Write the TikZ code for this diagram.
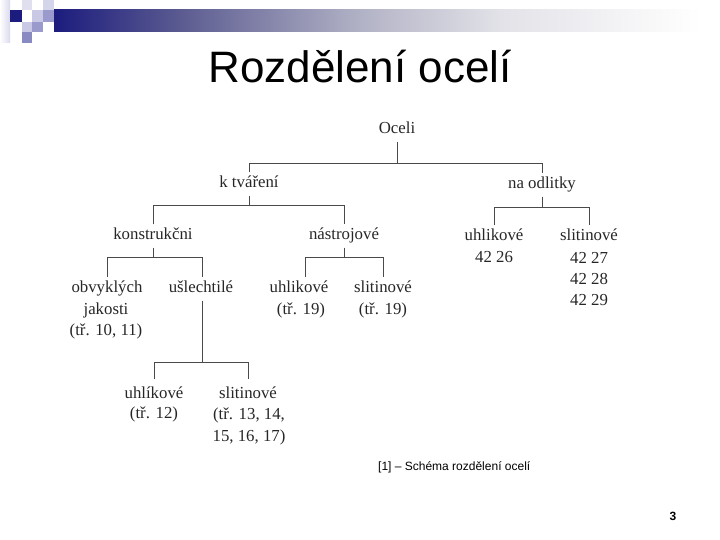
\documentclass[tikz,border=0pt]{standalone}
\usepackage{fontspec}
\setmainfont{Liberation Serif}
\newfontfamily\arialf{Liberation Sans}
\definecolor{navy}{HTML}{1C1C7E}
\definecolor{navyA}{HTML}{5B5B91}
\definecolor{navyB}{HTML}{B2B2C6}
\definecolor{navyC}{HTML}{E2E2E8}
\definecolor{lav}{HTML}{C9C9E6}
\definecolor{lavm}{HTML}{9A9ACC}
\definecolor{lavd}{HTML}{8A8AC2}
\definecolor{ink}{HTML}{262626}
\definecolor{wire}{HTML}{4A4A4A}
\tikzset{
  lbl/.style={font=\fontsize{16.8}{19}\selectfont, text=ink, inner xsep=1pt, inner ysep=4pt, text height=11pt, text depth=4pt, anchor=center},
  lbllow/.style={lbl, inner ysep=8pt},
  txt/.style={font=\fontsize{16.8}{19}\selectfont, text=ink, inner sep=0pt, anchor=center},
  wirel/.style={draw=wire, line width=0.9pt}
}
\begin{document}
\begin{tikzpicture}[x=1pt,y=-1pt]
\useasboundingbox (0,0) rectangle (720,540);
% header decoration
\shade[left color=white, right color=lav!70] (0,0) rectangle (10,43);
\fill[navy] (10,10) rectangle (22,22);
\fill[lav!60] (22,0) rectangle (32,10);
\fill[lav] (32,10) rectangle (43,22);
\fill[lav!80] (43,0) rectangle (54,10);
\fill[lavm] (43,10) rectangle (54,22);
\fill[lav] (22,22) rectangle (32,32);
\fill[lavm] (32,22) rectangle (43,32);
\fill[lavd] (22,32) rectangle (32,43);
\shade[left color=navy, right color=navyA] (54,10) rectangle (180.5,32);
\shade[left color=navyA, right color=navyB] (180,10) rectangle (360.5,32);
\shade[left color=navyB, right color=navyC] (360,10) rectangle (500.5,32);
\shade[left color=navyC, right color=white] (500,10) rectangle (700,32);
% title
\node[font=\arialf\fontsize{44}{48}\selectfont, anchor=base, inner sep=0pt] (title) at (360,83) {Rozdělení ocelí};
% tree nodes
\node[lbl] (oceli) at (397,130) {Oceli};
\node[lbl] (ktv) at (249,184) {k tváření};
\node[lbl] (odl) at (542,185) {na odlitky};
\node[lbl] (kon) at (153,236) {konstrukčni};
\node[lbl] (nas) at (344,236) {nástrojové};
\node[lbl] (ouh) at (494,237) {uhlikové};
\node[lbl] (osl) at (589,237) {slitinové};
\node[txt] (ouh1) at (494,257) {42 26};
\node[txt] (osl1) at (589,258) {42 27};
\node[txt] (osl2) at (589,279) {42 28};
\node[txt] (osl3) at (589,300) {42 29};
\node[lbl] (obv) at (107,289) {obvyklých};
\node[txt] (obv1) at (106,310) {jakosti};
\node[txt] (obv2) at (106,331) {(tř. 10, 11)};
\node[lbl] (usl) at (201,289) {ušlechtilé};
\node[lbl] (nuh) at (299,289) {uhlikové};
\node[txt] (nuh1) at (301,310) {(tř. 19)};
\node[lbl] (nsl) at (383,289) {slitinové};
\node[txt] (nsl1) at (383,310) {(tř. 19)};
\node[lbllow] (buh) at (154,395) {uhlíkové};
\node[txt] (buh1) at (154,414) {(tř. 12)};
\node[lbllow] (bsl) at (248,395) {slitinové};
\node[txt] (bsl1) at (249,415) {(tř. 13, 14,};
\node[txt] (bsl2) at (249,437) {15, 16, 17)};
% bar levels and off-centre stems
\coordinate (y1) at (0,163);
\coordinate (y2) at (0,205);
\coordinate (y3) at (0,207);
\coordinate (y4) at (0,257);
\coordinate (y5) at (0,362);
\coordinate (ustem) at (202,0);
\coordinate (nuhx) at (305,0);
% connectors
\draw[wirel] (oceli.south) -- (oceli.south |- y1);
\draw[wirel] (ktv.north) -- (ktv.north |- y1) -- (odl.north |- y1) -- (odl.north);
\draw[wirel] (ktv.south) -- (ktv.south |- y2);
\draw[wirel] (kon.north) -- (kon.north |- y2) -- (nas.north |- y2) -- (nas.north);
\draw[wirel] (odl.south) -- (odl.south |- y3);
\draw[wirel] (ouh.north) -- (ouh.north |- y3) -- (osl.north |- y3) -- (osl.north);
\draw[wirel] (kon.south) -- (kon.south |- y4);
\draw[wirel] (obv.north) -- (obv.north |- y4) -- (ustem |- y4) -- (usl.north -| ustem);
\draw[wirel] (nas.south) -- (nas.south |- y4);
\draw[wirel] (nuh.north -| nuhx) -- (nuhx |- y4) -- (nsl.north |- y4) -- (nsl.north);
\draw[wirel] (usl.south -| ustem) -- (ustem |- y5);
\draw[wirel] (buh.north) -- (buh.north |- y5) -- (bsl.north |- y5) -- (bsl.north);
% caption and page number
\node[font=\arialf\fontsize{12}{14}\selectfont, anchor=west, inner sep=0pt] (cap) at (378,467) {[1] – Schéma rozdělení ocelí};
\node[font=\arialf\bfseries\fontsize{12}{14}\selectfont, anchor=center, inner sep=0pt] (pg) at (673,516) {3};
\end{tikzpicture}
\end{document}
